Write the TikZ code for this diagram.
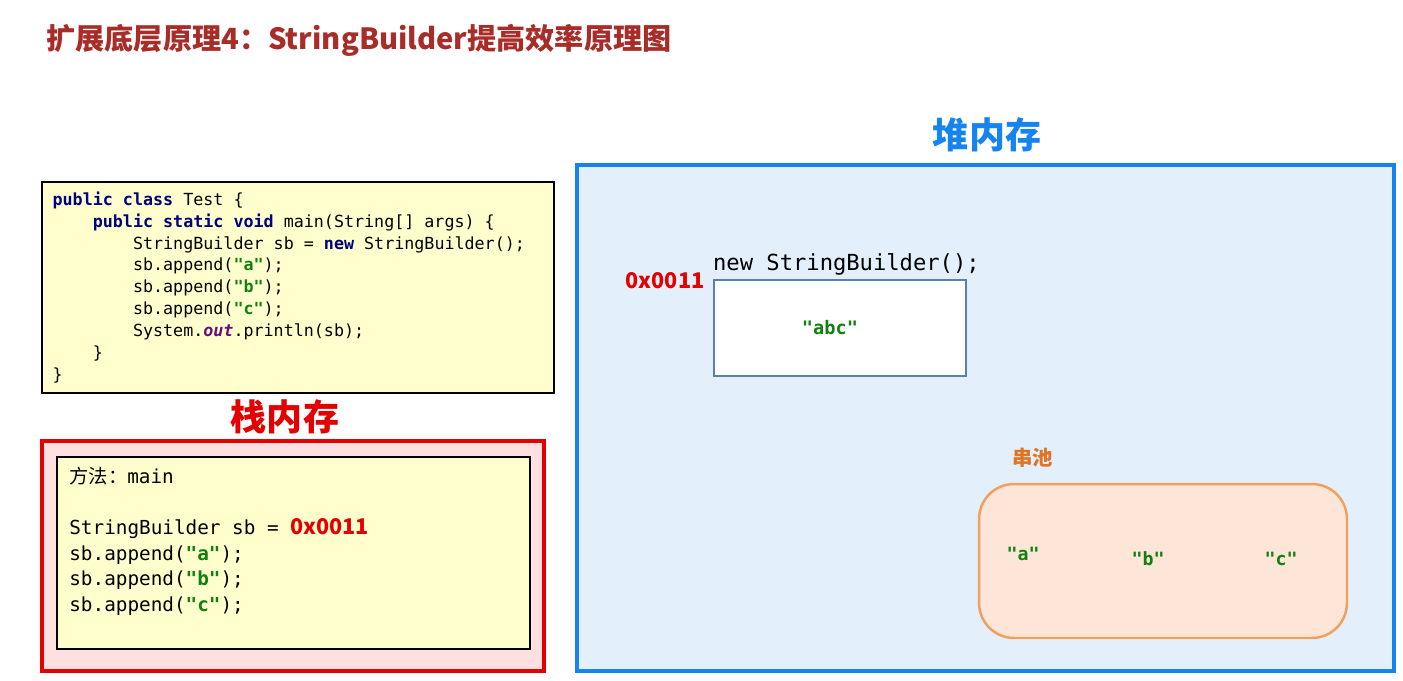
\documentclass[tikz,border=0pt]{standalone}
\usepackage{fontspec}
\setmainfont{Liberation Sans}
\setmonofont{DejaVu Sans Mono}
\newfontfamily\cjk{Noto Sans CJK SC}
\usetikzlibrary{positioning}

\definecolor{titlered}{RGB}{168,44,40}
\definecolor{stackred}{RGB}{228,0,0}
\definecolor{stackfill}{RGB}{255,224,224}
\definecolor{codefill}{RGB}{255,255,206}
\definecolor{heapblue}{RGB}{22,132,240}
\definecolor{heapfill}{RGB}{227,240,252}
\definecolor{objblue}{RGB}{92,126,180}
\definecolor{poolfill}{RGB}{253,229,215}
\definecolor{pooldraw}{RGB}{240,160,92}
\definecolor{poolorange}{RGB}{224,116,36}
\definecolor{strgreen}{RGB}{16,128,16}
\definecolor{kwblue}{RGB}{0,0,128}
\definecolor{outpurple}{RGB}{102,14,122}

\newcommand{\jkw}[1]{\textcolor{kwblue}{\textbf{#1}}}
\newcommand{\jstr}[1]{\textcolor{strgreen}{\textbf{"#1"}}}
\newcommand{\jaddr}{\textcolor{stackred}{\cjk\bfseries\fontsize{12.3}{14}\selectfont 0x0011}}

\tikzset{
  memtitle/.style={font=\cjk\bfseries\fontsize{20.5}{22}\selectfont, inner sep=0},
  plainbox/.style={draw, rectangle, inner sep=0},
  codetext/.style={align=left, inner sep=0, font=\ttfamily\fontsize{9.5}{12.5}\selectfont},
  stacktext/.style={align=left, inner sep=0, font=\ttfamily\fontsize{11}{14.5}\selectfont},
  poolstr/.style={inner sep=0, font=\ttfamily\bfseries\fontsize{10.4}{12}\selectfont, text=strgreen}
}

\begin{document}
\begin{tikzpicture}[x=0.02cm, y=-0.02cm]
\useasboundingbox (0,0) rectangle (1403,680);

\node[anchor=west, inner sep=0, text=titlered, font=\cjk\bfseries\fontsize{16.6}{19}\selectfont] (title) at (46,40) {扩展底层原理4：StringBuilder提高效率原理图};

% code
\node[plainbox, fill=codefill, line width=0.85pt, minimum width=10.24cm, minimum height=4.22cm] (code) at (298,287.5) {};
\node[codetext, anchor=west] (codetxt) at ([xshift=0.22cm]code.west) {%
\jkw{public class} Test \{\\
\phantom{xxxx}\jkw{public static void} main(String[] args) \{\\
\phantom{xxxxxxxx}StringBuilder sb = \jkw{new} StringBuilder();\\
\phantom{xxxxxxxx}sb.append(\jstr{a});\\
\phantom{xxxxxxxx}sb.append(\jstr{b});\\
\phantom{xxxxxxxx}sb.append(\jstr{c});\\
\phantom{xxxxxxxx}System.\textcolor{outpurple}{\textbf{\textit{out}}}.println(sb);\\
\phantom{xxxx}\}\\
\}};

% stack
\node[memtitle, text=stackred] (stacktitle) at (285,417) {栈内存};
\node[plainbox, draw=stackred, fill=stackfill, line width=2.3pt, minimum width=10.04cm, minimum height=4.6cm] (stack) at (293,556) {};
\node[plainbox, fill=codefill, line width=0.85pt, minimum width=9.46cm, minimum height=3.84cm] (frame) at (293.5,553) {};
\node[stacktext, anchor=north west] (stacktxt) at (69,467) {%
{\cjk 方法：}main\\[14.5pt]
StringBuilder sb = \jaddr\\
sb.append(\jstr{a});\\
sb.append(\jstr{b});\\
sb.append(\jstr{c});};

% heap
\node[memtitle, text=heapblue] (heaptitle) at (987,135) {堆内存};
\node[plainbox, draw=heapblue, fill=heapfill, line width=2.3pt, minimum width=16.34cm, minimum height=10.12cm] (heap) at (985.5,418) {};
\node[plainbox, draw=objblue, fill=white, line width=1.4pt, minimum width=5.04cm, minimum height=1.92cm] (obj) at (840,328) {};
\node[above right=0.06cm and 0cm of obj.north west, inner sep=0, font=\ttfamily\fontsize{12.6}{14}\selectfont] (newsb) {new StringBuilder();};
\node[left=0.16cm of obj.north west, inner sep=0, yshift=-0.04cm] (heapaddr) {\jaddr};
\node[poolstr, font=\ttfamily\bfseries\fontsize{10.6}{12}\selectfont] (abc) at (830,328) {"abc"};

% string pool
\node[anchor=west, inner sep=0, text=poolorange, font=\cjk\bfseries\fontsize{11.6}{13}\selectfont] (pooltitle) at (1012,458) {串池};
\node[plainbox, draw=pooldraw, fill=poolfill, line width=1.4pt, rounded corners=0.7cm, minimum width=7.36cm, minimum height=3.08cm] (pool) at (1163,561) {};
\node[poolstr] (stra) at (1023,554) {"a"};
\node[poolstr] (strb) at (1148,559) {"b"};
\node[poolstr] (strc) at (1281,559) {"c"};
\end{tikzpicture}
\end{document}
